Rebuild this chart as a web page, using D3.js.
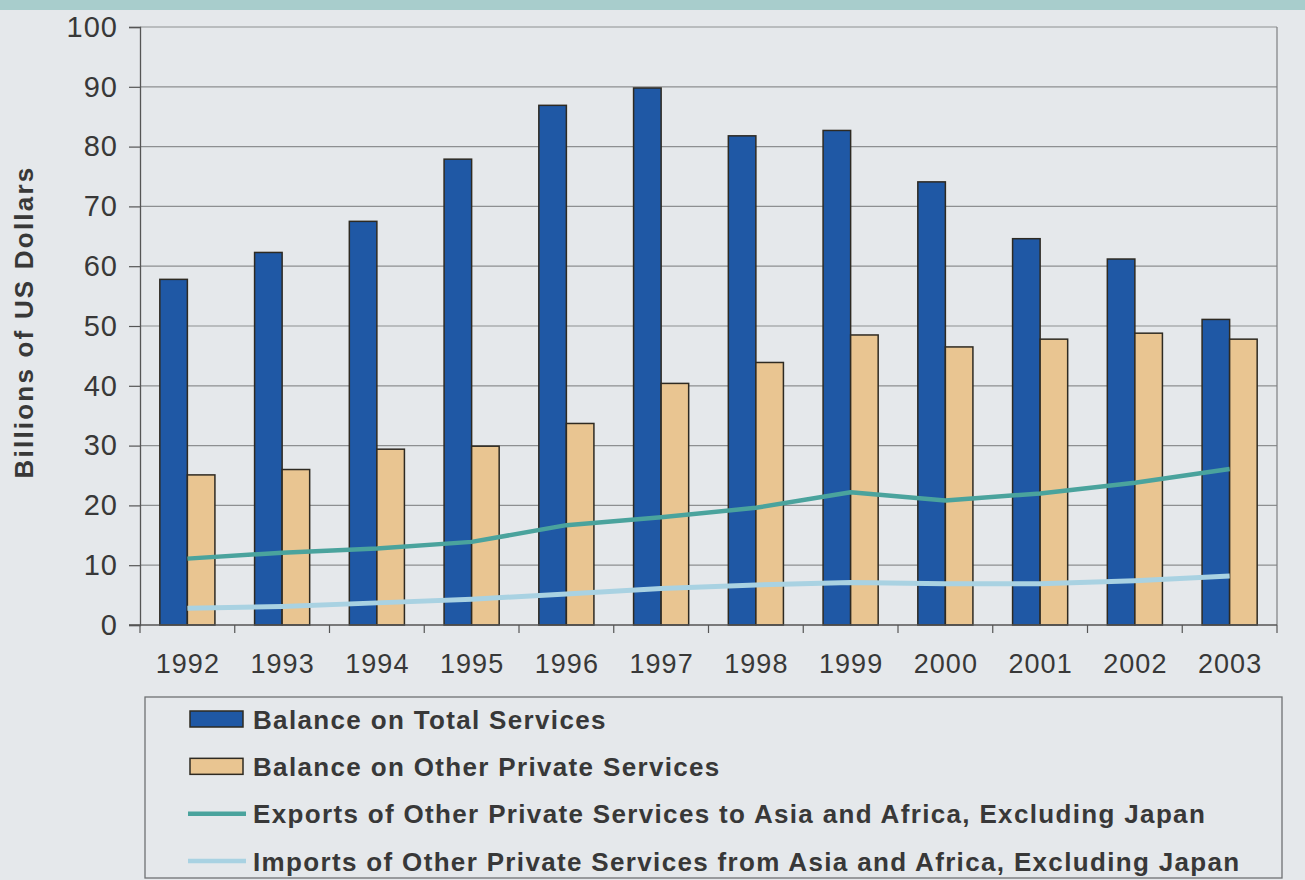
<!DOCTYPE html>
<html>
<head>
<meta charset="utf-8">
<script src="https://cdn.jsdelivr.net/npm/d3@7"></script>
<style>
  html, body { margin: 0; padding: 0; background: #e5e8eb; }
  svg { display: block; }
  svg text { font-family: "Liberation Sans", Arial, Helvetica, sans-serif; fill: #383838; }
</style>
</head>
<body>
<svg id="chart" width="1305" height="880"></svg>
<script>
// Years on the category axis
const years = ["1992","1993","1994","1995","1996","1997","1998","1999","2000","2001","2002","2003"];

// Bars (billions of US dollars)
const balanceTotalServices = [57.8, 62.3, 67.5, 77.9, 86.9, 89.8, 81.8, 82.7, 74.1, 64.6, 61.2, 51.1];
const balanceOtherPrivate  = [25.1, 26.0, 29.4, 29.9, 33.7, 40.4, 43.9, 48.5, 46.5, 47.8, 48.8, 47.8];

// Lines (billions of US dollars)
const exportsAsiaAfrica = [11.1, 12.1, 12.8, 13.9, 16.7, 18.0, 19.6, 22.2, 20.8, 22.0, 23.8, 26.1];
const importsAsiaAfrica = [2.8, 3.1, 3.7, 4.3, 5.2, 6.1, 6.7, 7.1, 6.9, 6.9, 7.4, 8.2];

// Value axis ticks
const yTicks = [0, 10, 20, 30, 40, 50, 60, 70, 80, 90, 100];

const seriesNames = {
  total: "Balance on Total Services",
  other: "Balance on Other Private Services",
  exp: "Exports of Other Private Services to Asia and Africa, Excluding Japan",
  imp: "Imports of Other Private Services from Asia and Africa, Excluding Japan"
};
const colors = { total: "#1f58a5", other: "#e9c591", exp: "#4aa39d", imp: "#a9d2e2" };

const svg = d3.select("#chart");
const W = 1305, H = 880;

// band across the top
svg.append("rect").attr("x", 0).attr("y", 0).attr("width", W).attr("height", 10).attr("fill", "#a8cdcc");

const plot = { left: 140, right: 1277, top: 27, bottom: 625 };

const x = d3.scaleBand().domain(years).range([plot.left, plot.right]).paddingInner(0).paddingOuter(0);
const xSub = d3.scaleBand().domain(["total", "other"]).range([0, x.bandwidth()]).paddingInner(0).paddingOuter(0.72);
const y = d3.scaleLinear().domain([0, 100]).range([plot.bottom, plot.top]);

// gridlines
svg.append("g").selectAll("line").data(yTicks.filter(t => t > 0)).join("line")
  .attr("x1", plot.left).attr("x2", plot.right)
  .attr("y1", d => y(d)).attr("y2", d => y(d))
  .attr("stroke", "#8d8f91").attr("stroke-width", 1.2);

// right border
svg.append("line").attr("x1", plot.right).attr("x2", plot.right)
  .attr("y1", plot.top).attr("y2", plot.bottom)
  .attr("stroke", "#7d7f81").attr("stroke-width", 1.2);

// bars
const barData = [];
years.forEach((yr, i) => {
  barData.push({ year: yr, key: "total", value: balanceTotalServices[i] });
  barData.push({ year: yr, key: "other", value: balanceOtherPrivate[i] });
});
svg.append("g").selectAll("rect").data(barData).join("rect")
  .attr("x", d => x(d.year) + xSub(d.key))
  .attr("width", xSub.bandwidth())
  .attr("y", d => y(d.value))
  .attr("height", d => y(0) - y(d.value))
  .attr("fill", d => colors[d.key])
  .attr("stroke", "#2e2a22").attr("stroke-width", 1.5);

// lines
const lineGen = d3.line()
  .x((d, i) => x(years[i]) + x.bandwidth() / 2)
  .y(d => y(d));
svg.append("path").datum(importsAsiaAfrica).attr("d", lineGen)
  .attr("fill", "none").attr("stroke", colors.imp).attr("stroke-width", 5).attr("stroke-linejoin", "round");
svg.append("path").datum(exportsAsiaAfrica).attr("d", lineGen)
  .attr("fill", "none").attr("stroke", colors.exp).attr("stroke-width", 4.5).attr("stroke-linejoin", "round");

// y axis
const yAxis = d3.axisLeft(y).tickValues(yTicks).tickSize(11).tickPadding(11);
const gy = svg.append("g").attr("transform", `translate(${plot.left},0)`).call(yAxis);
gy.select(".domain").attr("stroke", "#555").attr("stroke-width", 1.3);
gy.selectAll(".tick line").attr("stroke", "#555").attr("stroke-width", 1.2);
gy.selectAll(".tick text").attr("font-size", 29).attr("letter-spacing", 1).attr("fill", "#383838")
  .style("font-family", "'Liberation Sans', Arial, sans-serif");

// x axis: ticks between categories
const gx = svg.append("g").attr("transform", `translate(0,${plot.bottom})`);
gx.append("line").attr("x1", plot.left - 11).attr("x2", plot.right)
  .attr("stroke", "#555").attr("stroke-width", 1.3);
const boundaries = years.map(yr => x(yr)).concat([plot.right]);
gx.selectAll("line.tk").data(boundaries).join("line").attr("class", "tk")
  .attr("x1", d => d).attr("x2", d => d).attr("y1", 0).attr("y2", 8)
  .attr("stroke", "#555").attr("stroke-width", 1.2);
gx.selectAll("text").data(years).join("text")
  .attr("x", d => x(d) + x.bandwidth() / 2 + 0.5)
  .attr("y", 48)
  .attr("text-anchor", "middle")
  .attr("font-size", 27).attr("letter-spacing", 1)
  .text(d => d);

// y axis title
svg.append("text")
  .attr("transform", `translate(33,322) rotate(-90)`)
  .attr("text-anchor", "middle")
  .attr("font-size", 26).attr("font-weight", "bold").attr("letter-spacing", 2.2)
  .text("Billions of US Dollars");

// legend
const legend = svg.append("g");
legend.append("rect").attr("x", 145).attr("y", 697).attr("width", 1137).attr("height", 181)
  .attr("fill", "none").attr("stroke", "#6f7173").attr("stroke-width", 1.3);

const legendItems = [
  { key: "total", type: "bar" },
  { key: "other", type: "bar" },
  { key: "exp", type: "line" },
  { key: "imp", type: "line" }
];
const rowY = d3.scalePoint().domain(legendItems.map(d => d.key)).range([719, 861]);
const items = legend.selectAll("g.item").data(legendItems).join("g").attr("class", "item")
  .attr("transform", d => `translate(0,${rowY(d.key)})`);
items.filter(d => d.type === "bar").append("rect")
  .attr("x", 190).attr("y", -8).attr("width", 53).attr("height", 16)
  .attr("fill", d => colors[d.key]).attr("stroke", "#2e2a22").attr("stroke-width", 1.5);
items.filter(d => d.type === "line").append("line")
  .attr("x1", 188).attr("x2", 246).attr("y1", 0).attr("y2", 0)
  .attr("stroke", d => colors[d.key]).attr("stroke-width", 4.5);
items.append("text")
  .attr("x", 253).attr("y", 9.5)
  .attr("font-size", 26).attr("font-weight", "bold")
  .attr("letter-spacing", 1.34)
  .text(d => seriesNames[d.key]);
</script>
</body>
</html>
